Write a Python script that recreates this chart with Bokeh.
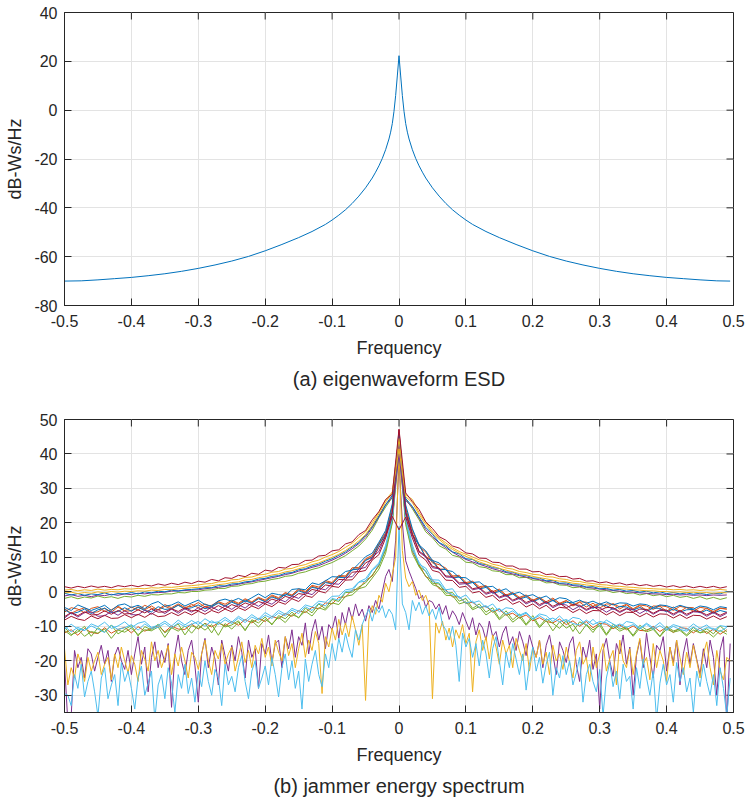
import numpy as np
from bokeh.plotting import figure
from bokeh.layouts import column
from bokeh.models import FixedTicker, Title, Range1d
from bokeh.embed import file_html
from bokeh.resources import INLINE

# ---------------- data: (a) eigenwaveform ESD ----------------
esd_freq = [-0.5, -0.475, -0.45, -0.425, -0.4, -0.375, -0.35, -0.325, -0.3, -0.275,
            -0.25, -0.225, -0.2, -0.175, -0.15, -0.13, -0.11, -0.1, -0.09, -0.08,
            -0.07, -0.06, -0.05, -0.04, -0.035, -0.03, -0.025, -0.02, -0.015, -0.0125,
            -0.01, -0.0075, -0.005, -0.0025, 0.0,
            0.0025, 0.005, 0.0075, 0.01, 0.0125, 0.015, 0.02, 0.025, 0.03, 0.035,
            0.04, 0.05, 0.06, 0.07, 0.08, 0.09, 0.1, 0.11, 0.13, 0.15,
            0.175, 0.2, 0.225, 0.25, 0.275, 0.3, 0.325, 0.35, 0.375, 0.4,
            0.425, 0.45, 0.475, 0.495]
esd_db = [-70.0, -69.9, -69.5, -69.0, -68.5, -67.8, -67.0, -66.0, -64.8, -63.4,
          -61.8, -59.9, -57.6, -55.0, -52.2, -49.7, -46.8, -45.0, -43.0, -40.8,
          -38.2, -35.2, -31.8, -27.8, -25.4, -22.8, -19.8, -16.2, -11.8, -9.0,
          -5.5, -0.5, 6.0, 14.0, 22.3,
          14.0, 6.0, -0.5, -5.5, -9.0, -11.8, -16.2, -19.8, -22.8, -25.4,
          -27.8, -31.8, -35.2, -38.2, -40.8, -43.0, -45.0, -46.8, -49.7, -52.2,
          -55.0, -57.6, -59.9, -61.8, -63.4, -64.8, -66.0, -67.0, -67.8, -68.5,
          -69.0, -69.5, -69.9, -70.0]

# ---------------- data: (b) jammer energy spectrum ----------------
# frequency bins: -0.50 ... 0.49 (step 0.01) and -0.500 ... 0.495 (step 0.005)
jam_freq = (np.arange(100) - 50) / 100.0
jam_freq_fine = (np.arange(200) - 100) / 200.0

# group near 0 dB at the band edges
jam_a1 = [1.5, 1.1, 1.6, 1.2, 1.7, 1.3, 1.6, 1.2, 1.8, 1.5,
          1.9, 1.5, 2.0, 1.7, 2.3, 1.9, 2.5, 2.1, 2.8, 2.4,
          3.1, 2.8, 3.6, 3.2, 4.1, 3.9, 4.8, 4.4, 5.4, 5.1,
          6.3, 6.0, 7.1, 6.9, 7.9, 8.0, 9.1, 9.2, 10.4, 10.6,
          11.9, 12.2, 13.9, 14.5, 16.6, 17.8, 20.9, 23.3, 26.8, 28.3,
          47.2,
          28.7, 26.2, 23.9, 20.3, 18.4, 16.0, 15.0, 13.3, 12.7, 11.3,
          11.0, 9.8, 9.7, 8.6, 8.5, 7.5, 7.5, 6.6, 6.6, 5.8,
          5.9, 5.0, 5.2, 4.4, 4.5, 3.7, 3.9, 3.1, 3.2, 2.6,
          2.9, 2.3, 2.6, 2.0, 2.3, 1.8, 2.1, 1.6, 1.9, 1.4,
          1.8, 1.3, 1.7, 1.2, 1.6, 1.2, 1.6, 1.1, 1.5]
jam_a2 = [0.5, 0.7, 0.3, 0.6, 0.4, 0.8, 0.5, 0.7, 0.6, 0.9,
          0.8, 1.0, 0.9, 1.2, 1.1, 1.4, 1.3, 1.5, 1.7, 1.8,
          2.0, 2.3, 2.4, 2.9, 3.0, 3.5, 3.6, 4.2, 4.3, 4.9,
          5.1, 5.7, 5.9, 6.6, 6.8, 7.5, 7.9, 8.7, 9.2, 10.1,
          10.8, 11.7, 12.9, 14.1, 15.8, 17.4, 20.1, 23.2, 26.6, 29.0,
          44.5,
          28.2, 26.8, 23.0, 20.2, 17.6, 15.6, 14.2, 12.8, 11.7, 10.9,
          10.1, 9.3, 8.8, 8.0, 7.6, 6.9, 6.6, 5.9, 5.6, 5.1,
          4.9, 4.4, 4.3, 3.8, 3.6, 3.1, 3.0, 2.6, 2.4, 2.1,
          2.0, 1.7, 1.6, 1.4, 1.3, 1.1, 1.0, 0.9, 0.8, 0.8,
          0.6, 0.7, 0.5, 0.6, 0.4, 0.6, 0.5, 0.7, 0.5]
jam_a3 = [-0.3, -0.1, -0.5, -0.2, -0.4, 0.0, -0.3, 0.1, -0.1, 0.2,
          0.1, 0.3, 0.2, 0.5, 0.4, 0.7, 0.6, 0.9, 1.0, 1.2,
          1.3, 1.5, 1.8, 2.1, 2.3, 2.7, 2.9, 3.4, 3.6, 4.1,
          4.4, 4.9, 5.2, 5.8, 6.1, 6.7, 7.2, 7.9, 8.4, 9.2,
          10.0, 10.9, 12.0, 13.3, 14.8, 16.6, 19.3, 22.6, 26.0, 28.7,
          41.5,
          27.6, 25.9, 22.4, 19.6, 17.0, 15.2, 13.6, 12.3, 11.2, 10.3,
          9.5, 8.7, 8.0, 7.4, 6.8, 6.3, 5.8, 5.3, 4.9, 4.5,
          4.1, 3.8, 3.4, 3.1, 2.9, 2.5, 2.3, 2.0, 1.8, 1.5,
          1.3, 1.1, 0.9, 0.8, 0.6, 0.5, 0.3, 0.3, 0.1, 0.1,
          -0.1, 0.0, -0.2, -0.1, -0.3, -0.2, -0.4, -0.2, -0.3]
jam_a4 = [-0.4, -0.9, -0.5, -1.0, -0.6, -0.8, -0.3, -0.9, -0.5, -0.6,
          -0.2, -0.6, 0.0, -0.3, 0.2, 0.0, 0.5, 0.2, 0.6, 0.7,
          0.9, 1.2, 1.2, 1.8, 1.7, 2.3, 2.4, 2.9, 3.1, 3.7,
          3.9, 4.5, 4.7, 5.4, 5.6, 6.4, 6.7, 7.5, 8.0, 8.9,
          9.6, 10.6, 11.6, 13.0, 14.3, 16.4, 18.9, 22.0, 25.3, 28.0,
          45.5,
          27.1, 24.8, 21.7, 18.7, 16.7, 14.3, 13.3, 11.6, 11.0, 9.6,
          9.4, 8.2, 7.9, 7.0, 6.8, 5.8, 5.7, 4.9, 4.8, 4.0,
          4.0, 3.2, 3.3, 2.5, 2.6, 2.0, 2.0, 1.4, 1.5, 0.9,
          1.0, 0.5, 0.7, 0.2, 0.4, -0.1, 0.2, -0.3, 0.0, -0.5,
          -0.2, -0.6, -0.3, -0.7, -0.4, -0.8, -0.4, -0.6, 0.1]
jam_a5 = [-1.2, -0.8, -1.3, -1.0, -1.4, -0.9, -1.1, -0.7, -1.0, -0.6,
          -0.8, -0.4, -0.6, -0.3, -0.2, -0.1, 0.2, 0.3, 0.4, 0.5,
          0.6, 0.9, 1.1, 1.3, 1.6, 1.9, 2.2, 2.6, 2.9, 3.3,
          3.7, 4.1, 4.5, 5.0, 5.4, 6.0, 6.5, 7.1, 7.6, 8.4,
          9.2, 10.1, 11.2, 12.5, 14.0, 15.9, 18.6, 21.8, 25.2, 27.5,
          43.0,
          26.5, 24.6, 21.4, 18.1, 16.0, 14.2, 12.8, 11.5, 10.4, 9.4,
          8.7, 8.0, 7.4, 6.7, 6.2, 5.6, 5.2, 4.7, 4.3, 3.9,
          3.5, 3.1, 2.8, 2.4, 2.2, 1.8, 1.6, 1.3, 1.1, 0.8,
          0.6, 0.4, 0.2, 0.0, -0.1, -0.3, -0.4, -0.6, -0.6, -0.8,
          -0.7, -0.9, -0.8, -1.0, -0.9, -1.1, -0.9, -1.0, -0.9]
jam_a6 = [-1.9, -1.4, -2.0, -1.5, -1.8, -1.2, -1.7, -1.4, -1.9, -1.3,
          -1.5, -1.0, -1.3, -0.8, -0.9, -0.6, -0.6, -0.2, -0.3, 0.1,
          0.1, 0.5, 0.6, 1.0, 1.0, 1.6, 1.7, 2.2, 2.4, 2.9,
          3.1, 3.6, 3.9, 4.5, 4.7, 5.4, 5.8, 6.5, 7.0, 7.8,
          8.5, 9.5, 10.5, 11.9, 13.3, 15.3, 17.9, 21.5, 24.6, 27.4,
          44.0,
          27.0, 24.1, 20.9, 17.4, 15.7, 13.4, 12.4, 10.6, 10.1, 8.6,
          8.4, 7.3, 7.0, 6.1, 5.9, 5.0, 5.0, 4.1, 4.2, 3.4,
          3.4, 2.6, 2.7, 2.0, 1.9, 1.2, 1.4, 0.8, 0.8, 0.2,
          0.4, -0.2, 0.1, -0.5, -0.3, -0.9, -0.5, -1.1, -0.8, -1.4,
          -1.0, -1.6, -1.3, -1.9, -1.4, -2.1, -1.6, -2.2, -1.7]

# group near -5 dB at the band edges
jam_b1 = [-4.5, -5.4, -3.8, -4.6, -5.4, -4.7, -3.9, -5.4, -3.9, -3.5,
          -4.5, -3.9, -4.9, -3.5, -2.8, -4.2, -3.8, -2.9, -4.1, -3.2,
          -2.4, -3.7, -4.1, -2.6, -2.1, -2.7, -1.9, -2.8, -1.7, -0.6,
          -1.7, -0.4, -0.8, -1.1, 0.7, 0.9, 0.6, 2.6, 2.1, 3.2,
          4.4, 4.3, 5.9, 6.3, 8.2, 10.2, 11.2, 14.4, 17.8, 25.5,
          45.8,
          25.2, 18.3, 13.6, 11.9, 9.1, 8.4, 6.3, 5.9, 4.2, 4.1,
          2.7, 2.9, 1.4, 1.6, 0.2, 0.9, -0.6, -0.1, -1.3, -0.8,
          -1.9, -1.2, -2.6, -1.7, -2.0, -3.1, -2.4, -3.3, -2.7, -3.6,
          -2.9, -3.8, -3.2, -3.3, -4.1, -3.5, -3.7, -4.6, -3.8, -4.0,
          -4.7, -3.9, -4.5, -5.0, -4.1, -4.4, -5.2, -4.3, -4.6]
jam_b2 = [-5.9, -4.6, -5.0, -6.1, -4.8, -4.3, -5.7, -5.2, -4.1, -5.5,
          -4.4, -5.3, -3.9, -4.8, -5.2, -3.7, -4.6, -3.5, -4.5, -4.2,
          -3.1, -4.4, -3.9, -2.8, -3.6, -2.4, -3.3, -2.0, -2.9, -1.6,
          -2.4, -0.9, -1.7, -0.2, -0.9, 0.9, 0.1, 1.9, 1.4, 3.3,
          2.7, 4.8, 4.6, 7.0, 7.1, 9.6, 10.6, 14.1, 17.2, 24.8,
          46.2,
          24.1, 17.9, 13.1, 11.6, 8.4, 7.9, 6.9, 4.6, 4.8, 2.7,
          3.1, 1.5, 1.8, 0.1, 0.8, -0.9, -0.2, -1.6, -0.9, -2.4,
          -1.6, -2.9, -1.8, -3.3, -2.5, -3.8, -2.9, -3.0, -4.2, -3.3,
          -4.6, -3.4, -4.4, -3.6, -4.9, -3.8, -4.1, -5.1, -4.0, -4.3,
          -5.4, -4.2, -4.6, -5.6, -4.5, -4.8, -5.7, -4.7, -5.0]
jam_b3 = [-5.1, -6.4, -5.9, -5.0, -6.3, -5.2, -4.8, -6.0, -5.7, -4.6,
          -5.6, -4.5, -5.4, -5.8, -4.3, -5.1, -4.9, -3.9, -5.0, -4.6,
          -3.8, -4.9, -4.3, -3.3, -4.2, -3.0, -3.8, -2.6, -3.3, -2.0,
          -2.9, -1.5, -2.2, -0.7, -1.3, 0.3, -0.4, 1.3, 0.9, 2.7,
          2.3, 4.2, 4.1, 6.4, 6.6, 9.1, 10.0, 13.6, 16.6, 23.5,
          44.8,
          23.3, 16.4, 13.6, 10.0, 8.9, 6.4, 6.5, 4.0, 4.3, 2.2,
          2.7, 0.8, 1.3, -0.4, 0.1, -1.3, -0.6, -2.1, -1.5, -2.9,
          -2.0, -3.4, -2.5, -3.8, -3.0, -3.2, -4.4, -3.5, -4.8, -3.7,
          -4.0, -5.1, -4.2, -4.4, -5.3, -4.5, -5.6, -4.7, -4.8, -5.8,
          -5.0, -5.9, -5.2, -5.1, -6.1, -5.3, -6.2, -5.4, -5.9]
jam_b4 = [-7.2, -6.0, -6.9, -5.8, -6.7, -6.6, -5.5, -6.5, -5.4, -6.4,
          -6.3, -5.2, -6.1, -5.0, -5.9, -5.8, -4.9, -5.7, -4.6, -5.5,
          -5.4, -4.3, -5.1, -4.0, -4.9, -3.7, -4.4, -3.2, -3.9, -2.8,
          -3.4, -2.1, -2.7, -1.3, -1.9, -0.5, -0.8, 0.7, 0.3, 2.0,
          1.7, 3.6, 3.5, 5.7, 5.9, 8.4, 9.4, 12.9, 16.0, 23.0,
          47.0,
          23.0, 16.9, 11.8, 10.4, 7.4, 6.9, 4.6, 4.5, 2.6, 2.7,
          0.9, 1.3, -0.4, 0.3, -1.5, -0.8, -2.4, -1.6, -3.1, -2.3,
          -3.7, -2.8, -4.2, -3.3, -4.6, -3.7, -3.9, -5.1, -4.2, -5.4,
          -4.5, -4.6, -5.7, -4.8, -5.9, -5.0, -5.1, -6.2, -5.2, -5.3,
          -6.4, -5.4, -6.5, -5.6, -5.7, -6.7, -5.8, -6.8, -5.9]
jam_b5 = [-4.9, -6.2, -5.3, -4.6, -6.0, -5.8, -4.7, -5.9, -4.4, -5.6,
          -5.5, -4.3, -5.2, -4.1, -5.3, -4.2, -5.0, -3.8, -4.9, -3.6,
          -4.6, -3.5, -4.4, -3.0, -4.1, -2.7, -3.6, -2.3, -3.2, -1.8,
          -2.7, -1.2, -2.0, -0.4, -1.2, 0.6, -0.2, 1.6, 1.0, 2.9,
          2.5, 4.5, 4.3, 6.6, 6.7, 9.3, 10.2, 13.8, 16.8, 24.6,
          43.5,
          24.6, 16.7, 13.8, 10.1, 9.3, 6.6, 6.6, 4.2, 4.5, 2.4,
          2.9, 1.0, 1.7, -0.3, 0.5, -1.2, -0.3, -2.0, -1.1, -2.7,
          -1.7, -3.3, -2.2, -3.7, -2.6, -4.1, -3.0, -4.4, -3.3, -4.7,
          -3.5, -3.6, -5.0, -3.8, -5.2, -4.0, -5.4, -4.1, -4.2, -5.6,
          -4.4, -5.7, -4.5, -4.6, -5.9, -4.7, -6.1, -4.8, -5.0]
jam_b6 = [-7.6, -6.1, -7.3, -6.0, -5.8, -7.1, -6.9, -5.7, -6.8, -5.5,
          -6.6, -6.7, -5.3, -6.5, -5.1, -6.3, -5.0, -6.2, -4.9, -5.9,
          -4.6, -5.7, -4.4, -5.4, -4.0, -5.1, -3.7, -4.7, -3.2, -4.2,
          -2.8, -3.6, -2.1, -2.9, -1.2, -1.9, -0.2, -0.8, 1.0, 0.6,
          2.4, 2.2, 4.2, 4.4, 6.6, 7.1, 10.0, 11.7, 16.5, 22.8,
          40.0,
          22.6, 16.6, 11.5, 10.1, 7.0, 6.7, 4.3, 4.2, 2.2, 2.4,
          0.6, 1.0, -0.7, -0.1, -1.8, -1.1, -2.7, -1.9, -3.5, -2.6,
          -4.1, -3.0, -4.6, -3.6, -3.8, -5.2, -4.1, -5.4, -4.5, -4.6,
          -5.9, -4.8, -6.0, -5.0, -5.1, -6.3, -5.2, -6.5, -5.4, -5.5,
          -6.8, -5.6, -6.9, -5.8, -5.9, -7.1, -6.0, -7.2, -6.2]
jam_b7 = [-8.2, -7.1, -7.9, -8.3, -7.0, -7.8, -6.8, -7.7, -7.6, -6.6,
          -7.5, -6.5, -7.4, -6.2, -7.2, -7.0, -6.0, -6.9, -5.8, -6.7,
          -5.6, -6.5, -5.4, -6.1, -5.0, -5.8, -4.6, -5.4, -4.1, -4.9,
          -3.5, -4.3, -2.9, -3.6, -2.0, -2.8, -1.1, -1.6, 0.2, -0.3,
          1.6, 1.3, 3.4, 3.5, 5.8, 6.2, 9.2, 10.8, 15.6, 21.9,
          18.0,
          21.7, 15.6, 10.7, 9.2, 6.2, 5.7, 3.4, 3.3, 1.3, 1.6,
          -0.3, 0.1, -1.6, -1.0, -2.7, -2.0, -3.6, -2.8, -4.4, -3.5,
          -4.9, -3.9, -5.5, -4.5, -4.7, -6.0, -5.0, -6.3, -5.4, -5.5,
          -6.7, -5.7, -6.9, -5.9, -6.0, -7.2, -6.2, -7.3, -6.4, -6.5,
          -7.6, -6.6, -7.7, -6.8, -6.9, -7.9, -7.0, -8.0, -7.2]

# group near -11 dB at the band edges
jam_c1 = [-10.9, -9.4, -10.8, -11.2, -9.3, -10.1, -8.8, -10.6, -9.9, -8.7,
          -10.4, -9.1, -8.6, -10.3, -9.7, -8.5, -9.9, -8.2, -9.6, -8.3,
          -9.5, -7.8, -9.0, -8.7, -7.4, -8.8, -7.1, -8.3, -6.6, -7.9,
          -6.0, -7.2, -5.4, -6.5, -4.8, -5.6, -3.8, -4.4, -2.7, -3.0,
          -1.3, -1.2, 0.6, 0.9, 2.9, 3.8, 6.5, 8.4, 13.5, 21.6,
          45.0,
          21.9, 13.6, 8.0, 6.9, 3.5, 3.4, 0.6, 0.9, -1.9, -0.9,
          -3.2, -2.6, -4.6, -3.5, -5.8, -4.6, -4.9, -6.8, -5.9, -7.9,
          -6.4, -6.9, -8.6, -7.0, -8.9, -7.4, -7.8, -9.6, -8.0, -9.9,
          -8.2, -9.3, -10.3, -8.6, -9.0, -10.5, -9.1, -10.4, -8.9, -10.8,
          -9.5, -10.1, -11.0, -9.3, -10.6, -9.6, -11.2, -9.8, -10.1]
jam_c2 = [-10.3, -12.4, -11.6, -10.0, -12.9, -10.4, -11.7, -9.6, -12.2, -10.9,
          -9.8, -12.8, -10.1, -11.0, -9.4, -11.9, -10.5, -9.3, -12.5, -9.8,
          -10.6, -9.1, -11.9, -8.8, -10.2, -9.6, -8.4, -11.3, -8.1, -9.0,
          -7.3, -9.6, -6.9, -7.8, -5.9, -7.6, -4.7, -6.1, -3.5, -4.9,
          -2.2, -2.8, -0.2, -0.1, 1.4, 2.6, 4.9, 7.5, 12.3, 20.4,
          43.6,
          20.5, 12.6, 7.4, 6.0, 2.5, 2.3, -0.4, -0.2, -2.7, -1.9,
          -4.8, -3.5, -5.9, -4.6, -7.7, -5.5, -8.1, -6.4, -9.4, -6.9,
          -10.0, -7.8, -9.1, -10.6, -8.3, -11.5, -8.7, -9.6, -11.8, -9.0,
          -12.3, -9.4, -10.8, -10.2, -12.6, -9.7, -11.0, -10.5, -12.9, -10.0,
          -11.3, -10.8, -12.5, -10.3, -11.9, -10.7, -12.2, -9.9, -11.6]
jam_c3 = [-11.9, -11.0, -12.6, -10.6, -11.8, -12.1, -10.4, -12.0, -10.9, -10.3,
          -11.9, -10.1, -11.4, -10.6, -9.8, -11.6, -9.9, -10.8, -10.9, -9.3,
          -10.8, -9.1, -10.2, -9.0, -9.9, -8.6, -9.7, -8.0, -9.0, -7.7,
          -8.6, -7.1, -7.8, -6.3, -7.1, -5.5, -6.0, -4.5, -4.9, -3.2,
          -3.5, -1.6, -1.5, 0.5, 0.9, 3.3, 4.6, 7.9, 12.2, 20.6,
          44.5,
          20.2, 11.8, 7.9, 4.4, 3.5, 0.9, 0.6, -1.5, -1.4, -3.4,
          -3.0, -4.6, -4.2, -5.9, -5.1, -6.8, -6.2, -7.6, -6.7, -8.4,
          -7.5, -8.6, -9.0, -7.9, -9.5, -8.4, -10.0, -8.6, -10.4, -9.1,
          -9.4, -10.7, -9.6, -11.0, -9.9, -11.2, -11.3, -10.0, -11.5, -10.2,
          -11.8, -10.4, -10.6, -11.9, -10.5, -12.1, -10.8, -12.3, -11.0]
jam_c4 = [-10.0, -11.6, -10.3, -11.2, -9.9, -10.8, -11.8, -9.7, -10.9, -10.4,
          -9.5, -11.1, -9.3, -10.6, -10.3, -9.1, -10.5, -9.0, -10.1, -9.4,
          -8.6, -10.0, -8.4, -9.5, -8.1, -9.2, -7.6, -8.9, -7.3, -8.2,
          -6.8, -7.7, -6.1, -7.0, -5.3, -6.3, -4.3, -5.4, -3.3, -4.1,
          -1.9, -2.4, 0.1, 0.3, 2.8, 3.1, 6.2, 7.9, 13.0, 21.1,
          42.0,
          20.9, 12.2, 8.6, 5.8, 3.0, 2.6, 0.2, -0.8, -1.4, -3.3,
          -2.7, -4.6, -4.0, -5.6, -4.8, -6.5, -5.5, -7.1, -6.2, -7.9,
          -6.9, -8.2, -7.6, -8.7, -8.0, -9.2, -9.6, -8.2, -9.5, -8.6,
          -9.0, -10.2, -9.3, -10.3, -9.5, -10.8, -9.4, -10.9, -9.8, -11.2,
          -10.0, -10.9, -11.4, -10.2, -11.3, -10.4, -10.6, -11.5, -10.3]
jam_c5 = [-11.2, -12.7, -10.9, -12.9, -11.5, -12.0, -10.8, -13.5, -11.1, -11.7,
          -10.5, -12.4, -11.0, -11.3, -10.2, -13.2, -10.4, -11.4, -9.9, -12.0,
          -9.7, -11.1, -9.5, -12.6, -9.2, -10.8, -8.8, -11.0, -8.4, -10.2,
          -8.0, -9.3, -7.4, -8.9, -6.6, -7.4, -5.6, -7.0, -4.6, -5.3,
          -3.2, -3.7, -1.3, -0.9, 0.9, 1.5, 4.0, 6.6, 11.2, 19.9,
          41.0,
          19.5, 11.1, 7.3, 4.6, 2.1, 1.4, -1.0, -1.1, -3.5, -2.9,
          -5.2, -4.3, -6.7, -5.4, -8.1, -6.4, -8.8, -7.3, -9.7, -7.6,
          -10.4, -8.3, -11.3, -8.7, -10.5, -9.4, -12.2, -9.5, -11.0, -9.8,
          -12.6, -10.0, -11.4, -10.5, -12.9, -10.5, -11.6, -10.9, -13.0, -10.8,
          -11.7, -11.2, -12.8, -11.1, -11.9, -11.5, -13.1, -11.2, -12.3]

# weak, noisy jammers (fine frequency grid)
jam_d1 = [-20.5, -38, -36, -17, -22, -19, -25, -16.5, -18, -23,
          -19, -15.5, -21, -17, -26, -18.5, -16, -20, -22.5, -17,
          -24, -18, -13, -21, -16, -29, -19, -14.5, -22, -17,
          -20.5, -15, -33.5, -18, -12.5, -20, -24, -17, -14, -21.5,
          -32, -18, -13.5, -22, -16, -19.5, -27, -14, -18.5, -23,
          -15.5, -20, -13, -17.5, -25, -14, -19, -16.5, -28, -15,
          -18, -12.5, -20.5, -15, -14, -22, -13, -16.5, -11, -19,
          -13, -15.5, -9, -18, -11.5, -8, -14, -10, -16.5, -9.5,
          -11, -7, -13.5, -6, -9.5, -4.5, -8, -3.5, -7, -5,
          -8.5, -4, -6, -2.5, -5, 0, 4.5, 6.5, 3, 15,
          38,
          20, 9, 6, 3.5, 1, -2, -1, -4.5, -2.5, -3,
          -5, -3.5, -6.5, -4, -8, -5.5, -7, -9.5, -6, -8.5,
          -11, -7.5, -12.5, -9, -10.5, -14, -8.5, -13, -11.5, -16,
          -12, -10, -15.5, -13, -17, -11.5, -14.5, -18.5, -12.5, -16,
          -19, -14, -22, -15.5, -12.5, -18, -24, -14.5, -17, -20.5,
          -15, -13, -21, -26, -16, -19.5, -14, -22.5, -18, -34,
          -17, -13.5, -20, -24.5, -15, -18, -12.5, -21, -16, -30,
          -18.5, -14, -22, -12, -19, -25, -15.5, -17, -13, -23,
          -16, -20.5, -14, -27, -18, -13.5, -21, -15, -19.5, -24,
          -16.5, -22, -14, -19, -30, -17, -13, -38, -15]
jam_d2 = [-16.5, -27, -22, -25, -18, -21, -26, -19, -23, -20,
          -17.5, -24, -21, -19, -25.5, -18, -22, -16, -20, -23.5,
          -18.5, -21, -26, -17, -19.5, -23, -14.5, -20, -17, -22,
          -19, -15.5, -24, -18, -21.5, -16, -20, -25, -17.5, -19,
          -22.5, -18, -14, -20, -24, -17, -19.5, -15, -21, -18,
          -16, -23, -19, -14.5, -20.5, -17, -22, -15.5, -18, -13.5,
          -19, -16, -21.5, -14, -17.5, -20, -13, -18.5, -15, -22,
          -16.5, -12, -19, -14, -17, -11.5, -15, -29.5, -13, -16,
          -10.5, -14, -8, -12.5, -9, -13, -7, -11, -15.5, -9.5,
          -31.5, -8, -4, -6.5, -1, -3, 2.5, 0, 5, 10,
          42,
          12, 4, 1.5, 3, -1, 0.5, -2.5, -1, -4, -31,
          -9, -12, -8.5, -14, -10.5, -16, -11, -13.5, -9.5, -15,
          -12, -29, -14.5, -11, -17, -13, -19.5, -12.5, -16, -21,
          -14, -18, -15.5, -22, -13.5, -17, -20, -15, -23, -16.5,
          -19, -14, -21, -17.5, -24, -15.5, -20, -18, -22.5, -16,
          -20.5, -25, -17, -14.5, -21, -19, -26, -16, -22, -18,
          -15, -23, -19.5, -17, -27, -14, -20, -22, -16.5, -24,
          -18, -13.5, -21, -19, -25.5, -15, -22, -17, -20, -26,
          -16, -21.5, -14, -19, -24, -17.5, -22, -15.5, -20, -25,
          -18, -14.5, -22, -27, -17, -23, -25.5, -19, -20]
jam_d3 = [-29.5, -30, -33, -24, -28, -21, -30.5, -26, -23, -29,
          -36, -25, -22, -31, -27, -24, -33, -20.5, -26, -23,
          -28, -34, -25, -21.5, -30, -26.5, -23, -37, -27, -24,
          -31, -22, -26.5, -35, -24, -28, -21, -29.5, -25, -32,
          -23, -27.5, -20, -26, -30, -22.5, -25, -33, -21, -27,
          -24.5, -29, -22, -18.5, -26, -31, -23, -20, -28, -25,
          -21.5, -27, -19, -24, -30.5, -22, -18, -25.5, -20, -28,
          -23, -34, -19.5, -26, -21, -17, -24, -27.5, -18, -22,
          -15, -20, -13.5, -17.5, -12, -16, -19, -11, -14, -9.5,
          -7, -5, -8.5, -4.5, -6, -4, -7.5, -5, -6.5, -11,
          19,
          -3.5, -6, -11, -2.5, -5.5, -3, -6.5, -4, -7, -5,
          -8, -4.5, -9.5, -11, -14, -10, -15.5, -26, -12, -16,
          -13.5, -19, -15, -21.5, -14, -18, -25, -16.5, -13, -20,
          -27, -17.5, -22, -15, -19.5, -24, -18, -28.5, -21, -16,
          -23, -19, -26.5, -21, -17.5, -30, -22, -25, -18.5, -24,
          -20, -27, -23.5, -19, -32, -24, -21, -26, -29, -22.5,
          -36, -25, -20.5, -27.5, -23, -31, -21, -26, -24.5, -34,
          -22, -28, -19.5, -25, -30, -23, -37, -26.5, -21, -27,
          -24, -32, -20.5, -26, -22, -29, -25, -35, -23, -27.5,
          -21, -26, -30, -24, -33, -22, -28, -36, -25]

BLUE, ORANGE, YELLOW, PURPLE = "#0072BD", "#D95319", "#EDB120", "#7E2F8E"
GREEN, LIGHTBLUE, DARKRED = "#77AC30", "#4DBEEE", "#A2142F"

jam_series = [
    (jam_d1, PURPLE, True), (jam_d2, YELLOW, True), (jam_d3, LIGHTBLUE, True),
    (jam_c3, ORANGE, False), (jam_c2, GREEN, False), (jam_c5, GREEN, False),
    (jam_c1, LIGHTBLUE, False), (jam_c4, LIGHTBLUE, False),
    (jam_b2, ORANGE, False), (jam_b5, ORANGE, False), (jam_b1, BLUE, False),
    (jam_b3, BLUE, False), (jam_b6, PURPLE, False), (jam_b4, DARKRED, False),
    (jam_b7, DARKRED, False),
    (jam_a6, GREEN, False), (jam_a5, PURPLE, False), (jam_a4, BLUE, False),
    (jam_a3, YELLOW, False), (jam_a2, YELLOW, False), (jam_a1, DARKRED, False),
]

x_ticks = [-0.5, -0.4, -0.3, -0.2, -0.1, 0.0, 0.1, 0.2, 0.3, 0.4, 0.5]
x_tick_labels = ["-0.5", "-0.4", "-0.3", "-0.2", "-0.1", "0", "0.1", "0.2", "0.3", "0.4", "0.5"]
esd_y_ticks = [-80, -60, -40, -20, 0, 20, 40]
jam_y_ticks = [-30, -20, -10, 0, 10, 20, 30, 40, 50]

FONT = "Liberation Sans"
INK = "#262626"
GRID = "#e3e3e3"
FRAME_W, FRAME_H, TICK_PX = 669, 293, 7


def make_panel(y_lo, y_hi, y_ticks, caption, top_border, bottom_border):
    p = figure(frame_width=FRAME_W, frame_height=FRAME_H,
               x_range=Range1d(-0.5, 0.5), y_range=Range1d(y_lo, y_hi),
               output_backend="svg", toolbar_location=None,
               min_border_left=64, min_border_right=15,
               min_border_top=top_border, min_border_bottom=bottom_border,
               background_fill_color="white", border_fill_color="white")
    p.outline_line_color = INK
    p.outline_line_width = 1
    xt = FixedTicker(ticks=x_ticks)
    yt = FixedTicker(ticks=y_ticks)
    p.xaxis.ticker = xt
    p.yaxis.ticker = yt
    p.xaxis.major_label_overrides = {t: s for t, s in zip(x_ticks, x_tick_labels)}
    p.yaxis.major_label_overrides = {t: str(t) for t in y_ticks}
    p.xgrid.ticker = xt
    p.ygrid.ticker = yt
    p.xgrid.grid_line_color = GRID
    p.ygrid.grid_line_color = GRID
    p.xaxis.axis_label = "Frequency"
    p.yaxis.axis_label = "dB-Ws/Hz"
    for ax in (p.xaxis[0], p.yaxis[0]):
        ax.axis_line_color = INK
        ax.major_tick_line_color = INK
        ax.minor_tick_line_color = None
        ax.major_tick_in = TICK_PX
        ax.major_tick_out = 0
        ax.major_label_text_font = FONT
        ax.major_label_text_font_size = "16px"
        ax.major_label_text_color = INK
        ax.axis_label_text_font = FONT
        ax.axis_label_text_font_size = "18px"
        ax.axis_label_text_font_style = "normal"
        ax.axis_label_text_color = INK
    p.xaxis.major_label_standoff = 9
    p.yaxis.major_label_standoff = 7
    p.xaxis.axis_label_standoff = 8
    p.yaxis.axis_label_standoff = 6
    # inward tick marks on the top and right edges of the box
    dy = TICK_PX * (y_hi - y_lo) / FRAME_H
    dx = TICK_PX * 1.0 / FRAME_W
    p.segment(x0=x_ticks, y0=[y_hi] * len(x_ticks), x1=x_ticks, y1=[y_hi - dy] * len(x_ticks),
              line_color=INK, line_width=1)
    p.segment(x0=[0.5] * len(y_ticks), y0=y_ticks, x1=[0.5 - dx] * len(y_ticks), y1=y_ticks,
              line_color=INK, line_width=1)
    p.add_layout(Title(text=caption, align="center", text_font=FONT, text_font_size="20px",
                       text_font_style="normal", text_color=INK, standoff=10), "below")
    return p


p1 = make_panel(-80, 40, esd_y_ticks, "(a) eigenwaveform ESD", 12, 95)
p1.line(esd_freq, esd_db, line_color=BLUE, line_width=1)

p2 = make_panel(-35, 50, jam_y_ticks, "(b) jammer energy spectrum", 19, 88)
for vals, col, fine in jam_series:
    xs = jam_freq_fine if fine else jam_freq
    n = min(len(xs), len(vals))
    p2.line(list(xs[:n]), vals[:n], line_color=col, line_width=1, line_join="round")

layout = column(p1, p2, spacing=0)
open("out.html", "w").write(file_html(layout, INLINE))
